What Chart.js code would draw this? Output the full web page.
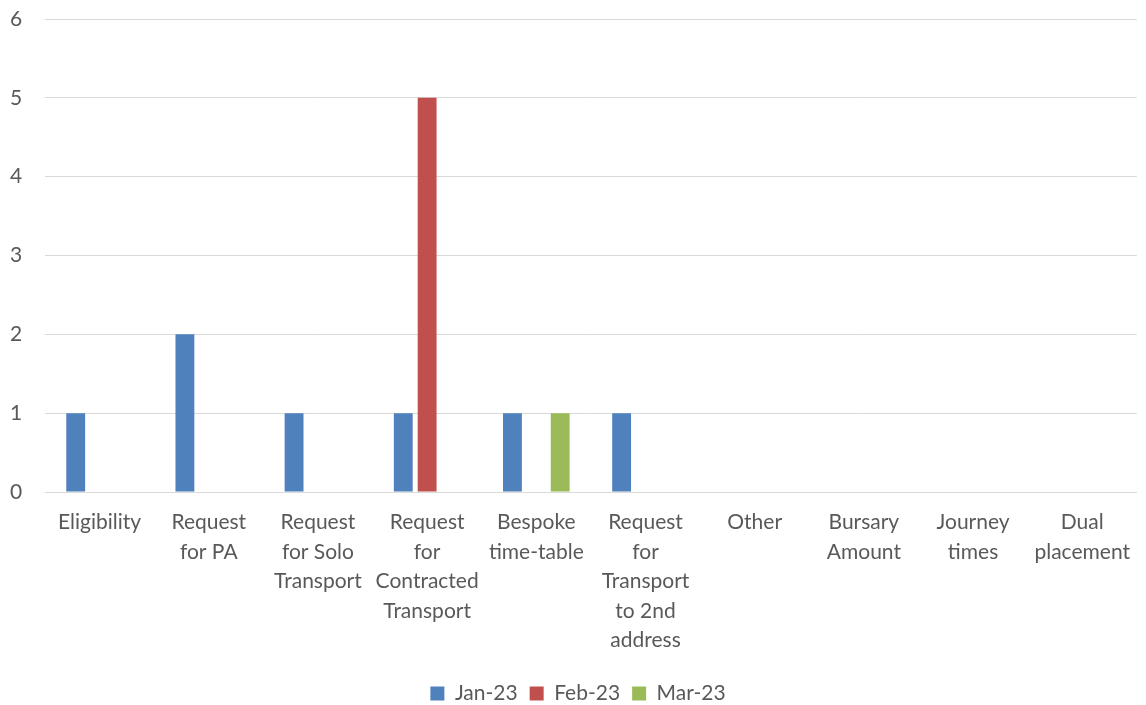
<!DOCTYPE html>
<html>
<head>
<meta charset="utf-8">
<script src="https://cdn.jsdelivr.net/npm/chart.js@4"></script>
<style>
html,body{margin:0;padding:0;background:#fff;}
#wrap{width:1146px;height:705px;position:relative;}
</style>
</head>
<body>
<div id="wrap"><canvas id="c"></canvas></div>
<script>
const categories = [
  "Eligibility",
  ["Request","for PA"],
  ["Request","for Solo","Transport"],
  ["Request","for","Contracted","Transport"],
  ["Bespoke","time-table"],
  ["Request","for","Transport","to 2nd","address"],
  "Other",
  ["Bursary","Amount"],
  ["Journey","times"],
  ["Dual","placement"]
];
const seriesNames = ["Jan-23","Feb-23","Mar-23"];
const jan23 = [1,2,1,1,1,1,0,0,0,0];
const feb23 = [0,0,0,5,0,0,0,0,0,0];
const mar23 = [0,0,0,0,1,0,0,0,0,0];
const yTicks = [0,1,2,3,4,5,6];

const colors = ["#4f81bd","#c0504d","#9bbb59"];
const txt = "#595959";
const fontFam = "Lato, 'Open Sans', sans-serif";

new Chart(document.getElementById('c'), {
  type: 'bar',
  data: {
    labels: categories,
    datasets: [jan23, feb23, mar23].map((d,i)=>({
      label: seriesNames[i],
      data: d,
      backgroundColor: colors[i],
      borderWidth: 0,
      categoryPercentage: 0.656,
      barPercentage: 0.79
    }))
  },
  options: {
    responsive: true,
    maintainAspectRatio: false,
    animation: false,
    layout: { padding: { left: 10, right: 0, top: 19, bottom: -9 } },
    plugins: {
      legend: {
        position: 'bottom',
        labels: {
          boxWidth: 14, boxHeight: 14, color: txt,
          font: { family: fontFam, size: 21 },
          padding: 12
        }
      },
      tooltip: { enabled: false }
    },
    scales: {
      x: {
        grid: { display: false, drawTicks: false },
        border: { display: true, color: '#d9d9d9', width: 1 },
        ticks: {
          color: txt, maxRotation: 0, autoSkip: false, padding: 16,
          font: { family: fontFam, size: 21, lineHeight: 1.4 }
        }
      },
      y: {
        min: 0, max: 6,
        afterBuildTicks: (s)=>{ s.ticks = yTicks.map(v=>({value:v})); },
        afterFit: (s)=>{ s.width = 35; },
        grid: { color: '#d9d9d9', lineWidth: 1, drawTicks: false },
        border: { display: false },
        ticks: {
          color: txt, padding: 0, crossAlign: 'far',
          font: { family: fontFam, size: 21 }
        }
      }
    }
  }
});
</script>
</body>
</html>
